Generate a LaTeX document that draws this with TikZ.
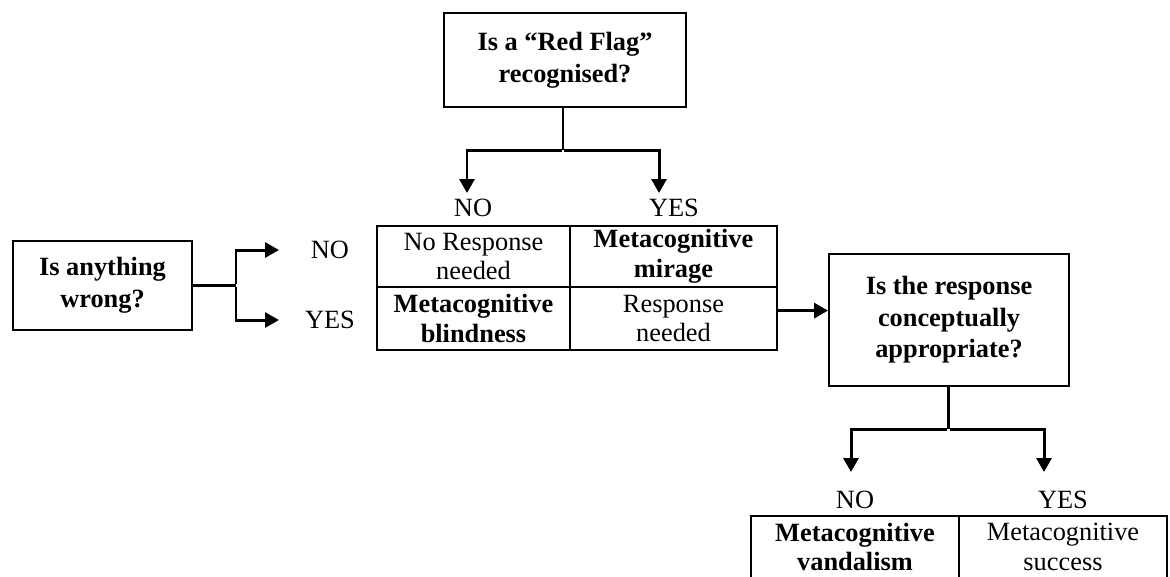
\documentclass[tikz,border=0pt]{standalone}
\usepackage{fontspec}
\setmainfont{Liberation Serif}
\usetikzlibrary{positioning,arrows.meta}

\begin{document}
\begin{tikzpicture}[
  x=0.02cm,y=-0.02cm,
  question/.style={draw,line width=1.1pt,align=center,inner sep=0pt,font=\fontsize{15}{18}\selectfont\bfseries},
  cell/.style={draw,line width=1.1pt,align=center,inner sep=0pt,font=\fontsize{15}{17}\selectfont},
  answer/.style={font=\fontsize{15}{16}\selectfont,inner sep=0pt},
  link/.style={line width=1.7pt},
  arrow/.style={line width=1.7pt,-{Triangle[length=0.28cm,width=0.3cm]}}
]
  \clip (0,0) rectangle (1170,576);

  % questions
  \node[question,minimum width=4.84cm,minimum height=1.88cm] (flag) at (565,60) {Is a ``Red Flag''\\recognised?};
  \node[question,minimum width=3.58cm,minimum height=1.78cm] (wrong) at (102.5,285.5) {Is anything\\wrong?};
  \node[question,minimum width=4.80cm,minimum height=2.64cm] (concept) at (949,320) {Is the response\\conceptually\\appropriate?};

  % first grid
  \node[cell,minimum width=3.86cm,minimum height=1.22cm] (noresp) at (473.5,256.5) {No Response\\needed};
  \node[cell,minimum width=4.14cm,minimum height=1.22cm] (mirage) at (673.5,256.5) {\textbf{Metacognitive}\\\textbf{mirage}};
  \node[cell,minimum width=3.86cm,minimum height=1.26cm] (blind) at (473.5,318.5) {\textbf{Metacognitive}\\\textbf{blindness}};
  \node[cell,minimum width=4.14cm,minimum height=1.26cm] (needed) at (673.5,318.5) {Response\\needed};

  % second grid
  \node[cell,minimum width=4.16cm,minimum height=1.24cm] (vandal) at (855,547) {\textbf{Metacognitive}\\\textbf{vandalism}};
  \node[cell,minimum width=4.16cm,minimum height=1.24cm] (success) at (1063,547) {Metacognitive\\success};

  % answers
  \node[answer] (flagno) at (473,208) {NO};
  \node[answer] (flagyes) at (674,208) {YES};
  \node[answer] (wrongno) at (330,250) {NO};
  \node[answer] (wrongyes) at (330,320) {YES};
  \node[answer] (conceptno) at (855,500) {NO};
  \node[answer] (conceptyes) at (1063,500) {YES};

  % branch points
  \coordinate (flagfork) at (563,150);
  \coordinate (flagnotip) at (467,193);
  \coordinate (flagyestip) at (659,193);
  \coordinate (wrongfork) at (236,285.5);
  \coordinate (wrongnotip) at (279,250);
  \coordinate (wrongyestip) at (279,320);
  \coordinate (conceptfork) at (948,429);
  \coordinate (conceptnotip) at (851,472);
  \coordinate (conceptyestip) at (1044,472);

  \draw[link] (flag.south -| flagfork) -- (flagfork);
  \draw[arrow] ([xshift=-0.85pt]flagfork) -| (flagnotip);
  \draw[arrow] ([xshift=0.85pt]flagfork) -| (flagyestip);

  \draw[link] (wrong.east) -- (wrongfork);
  \draw[arrow] ([yshift=0.85pt]wrongfork) |- (wrongnotip);
  \draw[arrow] ([yshift=-0.85pt]wrongfork) |- (wrongyestip);

  \draw[arrow] ([yshift=4.5pt]needed.east) -- ([yshift=4.5pt]needed.east -| concept.west);

  \draw[link] (concept.south -| conceptfork) -- (conceptfork);
  \draw[arrow] ([xshift=-0.85pt]conceptfork) -| (conceptnotip);
  \draw[arrow] ([xshift=0.85pt]conceptfork) -| (conceptyestip);
\end{tikzpicture}
\end{document}
